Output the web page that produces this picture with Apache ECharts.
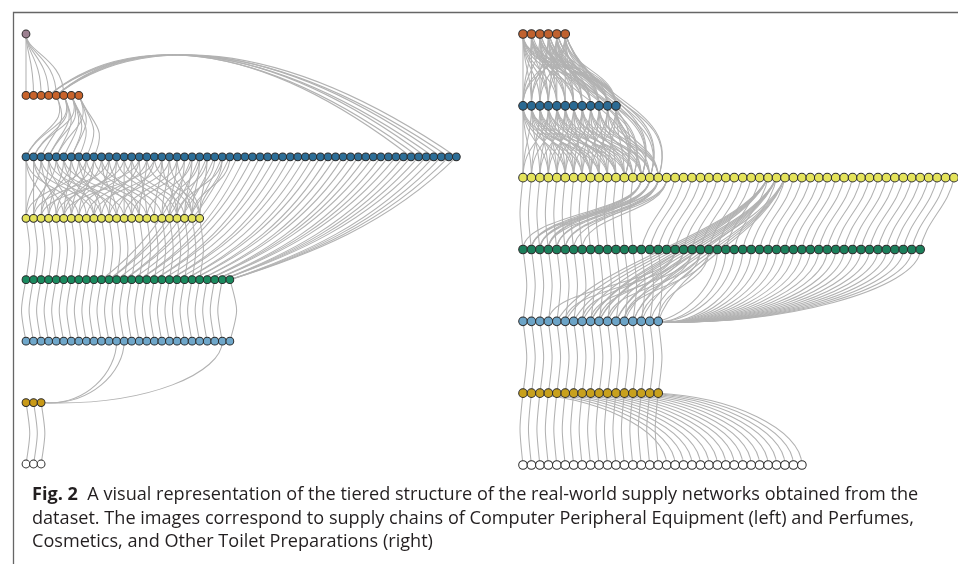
<!DOCTYPE html>
<html><head><meta charset="utf-8">
<script src="https://cdn.jsdelivr.net/npm/echarts@6/dist/echarts.min.js"></script>
<style>html,body{margin:0;padding:0;background:#fff}#c{width:958px;height:564px}</style>
</head><body><div id="c"></div>
<script>
// ================= DATA =================
// Number of firms (nodes) in each tier, top tier first
const leftTierSizes  = [1, 8, 58, 24, 28, 28, 3, 3];   // Computer Peripheral Equipment
const rightTierSizes = [6, 12, 52, 48, 17, 17, 34];    // Perfumes, Cosmetics, Toilet Preparations

// Edge lists: [sourceIndex, [targetIndices]] between two tiers
// ---- left network ----
const leftEdges01 = [[0,[0,1,2,3,4,5]]];
const leftEdges12 = [[4,[0,2]],[5,[0,1,3,4]],[6,[1,3,5,6,7]],[7,[4,6,8,9]]];
const leftArch12  = [[3,[52,54,56]],[4,[51,53,55,57]]];
const leftEdges23 = [[0,[0,3,7]],[1,[1,5,9]],[2,[0,4,10]],[3,[2,6,12]],[4,[1,8,13]],[5,[3,9,15]],
  [6,[2,5,11]],[7,[4,10,16]],[8,[0,6,14]],[9,[3,7,17]],[10,[5,12,18]],[11,[1,9,15]],[12,[6,11,19]],
  [13,[4,13,20]],[14,[7,14,21]],[15,[2,10,16]],[16,[8,15,22]],[17,[5,12,23]],[18,[9,17,20]],
  [19,[11,18,22]],[20,[13,19,23]],[21,[14,20]],[22,[16,21]],[23,[18,22]],[24,[19,23]],[25,[21]],
  [26,[20,23]],[27,[22]]];
const leftLong24  = [[22,[10]],[23,[11]],[24,[11]],[25,[12]],[26,[13]],[27,[13]],[28,[14]],[29,[15]],
  [30,[15]],[31,[16]],[32,[17]],[33,[17]],[34,[18]],[35,[19]],[36,[19]],[37,[20]],[38,[21]],[39,[21]],
  [40,[22]],[41,[22]],[42,[23]],[43,[23]],[44,[24]],[45,[24]],[46,[24]],[47,[25]],[48,[25]],[49,[25]],
  [50,[26]],[51,[26]],[52,[26]],[53,[26]],[54,[27]],[55,[27]],[56,[27]],[57,[27]]];
const leftEdges34 = [[0,[0]],[1,[1]],[2,[2]],[3,[3]],[4,[4]],[5,[5]],[6,[6]],[7,[7]],[8,[8]],[9,[9]],
  [10,[10]],[11,[11]],[12,[12]],[13,[13]],[14,[14]],[15,[15]],[16,[16]],[17,[17]],[18,[18]],[19,[19]],
  [20,[20]],[21,[21]],[22,[22]],[23,[23]]];
const leftEdges45 = [[0,[0]],[1,[1]],[2,[2]],[3,[3]],[4,[4]],[5,[5]],[6,[6]],[7,[7]],[8,[8]],[9,[9]],
  [10,[10]],[11,[11]],[12,[12]],[13,[13]],[14,[14]],[15,[15]],[16,[16]],[17,[17]],[18,[18]],[19,[19]],
  [20,[20]],[21,[21]],[22,[22]],[23,[23]],[24,[24]],[25,[25]],[26,[26]]];
const leftEdges45Outer = [[27,[27]]];
const leftSide56  = [[12,[2]],[13,[2]],[26,[2]]];
const leftEdges67 = [[0,[0]],[1,[1]],[2,[2]]];

// ---- right network ----
const rightEdges01 = [[0,[0,1,2,3,4,6,8,9,11]],[1,[0,1,3,5,6,7,8,10,11]],[2,[0,2,3,4,5,7,9,10,11]],
  [3,[1,2,4,5,6,8,9,10,11]],[4,[0,1,3,4,6,7,8,9,11]],[5,[0,2,3,5,6,7,9,10,11]]];
const rightLong02  = [[1,[12]],[2,[13,15]],[3,[12,13,14]],[4,[14,15,16]],[5,[12,14,15,16]]];
const rightEdges12 = [[0,[0,1,3,5,7,9]],[1,[0,2,4,6,8,10,12]],[2,[1,3,5,7,9,11]],[3,[0,2,4,6,8,11,13]],
  [4,[1,3,5,8,10,12,14]],[5,[2,4,6,9,11,13]],[6,[3,5,7,10,12,14,15]],[7,[4,6,8,11,13,15]],
  [8,[5,7,9,12,14,16]],[9,[6,8,10,13,15,16]],[10,[7,9,11,14,16]],[11,[8,10,12,14,15,16]]];
const rightEdges23 = [[0,[0]],[1,[1]],[2,[2]],[3,[3]],[4,[4]],[5,[5]],[6,[6]],[7,[7]],[8,[8]],[9,[9]],
  [10,[10]],[11,[11]],[12,[12]],[13,[13]]];
const rightBand23  = [[14,[0,1,2,3]],[15,[1,2,3,4]],[16,[1,2,4,5,6]],[17,[3,5,7]]];
const rightDiag23  = [[18,[14]],[19,[15]],[20,[16]],[21,[17]],[22,[18]],[23,[19]],[24,[20]],
  [25,[21]],[26,[22]],[27,[23]],[28,[24]],[29,[25]],[30,[26]],[31,[27]],[32,[28]],[33,[29]],[34,[30]],
  [35,[31]],[36,[32]],[37,[33]],[38,[34]],[39,[35]],[40,[36]],[41,[37]],[42,[38]],[43,[39]],[44,[40]],
  [45,[41]],[46,[42]],[47,[43]],[48,[44]],[49,[45]],[50,[46]],[51,[47]]];
const rightLong24  = [[29,[4,5,6,7,8,9]],[30,[8,9,10,11,12,13]],[31,[11,13,14,15,16]]];
const rightEdges34 = [[0,[0]],[1,[1]],[2,[2]],[3,[3]],[4,[4]],[5,[5]],[6,[6]],[7,[7]],[8,[8]],[9,[9]],
  [10,[10]],[11,[11]],[12,[12]],[13,[13]],[14,[14]],[15,[15]],[16,[16]]];
const rightCross34 = [[18,[3,7]],[19,[5,9]],[20,[8,12]],[21,[10,14]],[22,[12,16]]];
const rightSide34  = [[23,[14]],[24,[15]],[25,[15]],[26,[16]],[27,[16]],[28,[16]],[29,[16]],[30,[16]],
  [31,[16]],[32,[16]],[33,[16]],[34,[16]],[35,[16]],[36,[16]],[37,[16]],[38,[16]],[39,[16]],[40,[16]],
  [41,[16]],[42,[16]],[43,[16]],[44,[16]],[45,[16]],[46,[16]],[47,[16]]];
const rightEdges45 = [[0,[0]],[1,[1]],[2,[2]],[3,[3]],[4,[4]],[5,[5]],[6,[6]],[7,[7]],[8,[8]],[9,[9]],
  [10,[10]],[11,[11]],[12,[12]],[13,[13]],[14,[14]],[15,[15]],[16,[16]]];
const rightEdges56 = [[0,[0]],[1,[1]],[2,[2]],[3,[3]],[4,[4]],[5,[5]],[6,[6]],[7,[7]],[8,[8]],[9,[9]],
  [10,[10]],[11,[11]],[12,[12]],[13,[13]],[14,[14]],[15,[15]],[16,[16]]];
const rightSide56  = [[0,[17]],[1,[18]],[2,[19]],[3,[20]],[4,[21]],[5,[22]],[6,[23]],[7,[24]],[8,[25]],
  [9,[26]],[10,[27]],[11,[28]],[12,[29]],[13,[30]],[14,[31]],[15,[32]],[16,[33]]];

const captionLines = [
  '{b|Fig. 2}  A visual representation of the tiered structure of the real-world supply networks obtained from the',
  'dataset. The images correspond to supply chains of Computer Peripheral Equipment (left) and Perfumes,',
  'Cosmetics, and Other Toilet Preparations (right)'
];

// ================= STYLE =================
const leftColors  = ['#9c8090','#c8632b','#2d6e97','#e4e35b','#1b8a5f','#6fa7ca','#c99a18','#ffffff'];
const rightColors = ['#c0622f','#2b6a93','#e4e35b','#1c7f5b','#6ca4c7','#c8a11d','#ffffff'];

const EDGE_STYLES = [
  {mode:'v', k1:0.3, k2:0.6, bend:0},                  // 0 fan
  {mode:'v', k1:0.5, k2:0.5, bend:14},                 // 1 bulge right
  {mode:'arch', lift:62},                              // 2 arch
  {mode:'v', k1:0.5, k2:0.5, bend:0},                  // 3 plain
  {mode:'v', k1:0.55, k2:0.2, f1:0.3, f2:0.35, bend:0},// 4 long diagonal
  {mode:'v', k1:0.5, k2:0.5, bend:5},                  // 5 bend right
  {mode:'v', k1:0.5, k2:0.5, bend:-6},                 // 6 bend left
  {mode:'v', k1:0.5, k2:0.5, bend:9},                  // 7 outer bend right
  {mode:'vh', k1:0.5, f:0.6, drop:4},                  // 8 enter from right
  {mode:'hv', k2:0.5, f:0.5, drop:3},                  // 9 exit to right
  {mode:'v', k1:0.5, k2:0.5, bend:25},                 // 10 wide bulge
  {mode:'v', k1:0.5, k2:0.5, bend:-4},                 // 11 slight left
  {mode:'vh', k1:0.55, f:0.45, drop:6},                // 12 enter from right (flat)
  {mode:'v', k1:0.4, k2:0.4, f1:0.15, f2:0.15, bend:0} // 13 straighter diagonal
];

const leftGroups = [
  [0,1,leftEdges01,0],[1,2,leftEdges12,1],[1,2,leftArch12,2],[2,3,leftEdges23,3],
  [2,4,leftLong24,4],[3,4,leftEdges34,5],[4,5,leftEdges45,6],[4,5,leftEdges45Outer,7],
  [5,6,leftSide56,8],[6,7,leftEdges67,5]
];
const rightGroups = [
  [0,1,rightEdges01,3],[0,2,rightLong02,10],[1,2,rightEdges12,3],[2,3,rightEdges23,11],
  [2,3,rightBand23,3],[2,3,rightDiag23,13],[2,4,rightLong24,13],[3,4,rightEdges34,5],
  [3,4,rightCross34,3],[3,4,rightSide34,12],[4,5,rightEdges45,5],[5,6,rightEdges56,11],
  [5,6,rightSide56,9]
];

function buildEdges(groups){
  const out = [];
  groups.forEach(([ts, tt, list, st]) => {
    list.forEach(([s, targets]) => targets.forEach(t => out.push([s, ts, t, tt, st])));
  });
  return out;
}
function buildNodes(sizes, colors){
  const out = [];
  sizes.forEach((n, tier) => {
    for (let i = 0; i < n; i++) out.push({value:[i, tier], itemStyle:{color: colors[tier]}});
  });
  return out;
}

function renderEdge(params, api){
  const a = api.coord([api.value(0), api.value(1)]);
  const b = api.coord([api.value(2), api.value(3)]);
  const s = EDGE_STYLES[api.value(4)];
  const dx = b[0]-a[0], dy = b[1]-a[1];
  let c1, c2;
  if (s.mode === 'v') {
    const f1 = s.f1 || 0, f2 = s.f2 || 0;
    c1 = [a[0]+s.bend+f1*dx, a[1]+s.k1*dy]; c2 = [b[0]+s.bend-f2*dx, b[1]-s.k2*dy];
  }
  else if (s.mode === 'arch') { c1 = [a[0]+0.2*dx, a[1]-s.lift]; c2 = [a[0]+0.55*dx, a[1]-s.lift]; }
  else if (s.mode === 'vh') { c1 = [a[0], a[1]+s.k1*dy]; c2 = [b[0]-s.f*dx, b[1]+s.drop]; }
  else { c1 = [a[0]+s.f*dx, a[1]+s.drop]; c2 = [b[0], b[1]-s.k2*dy]; }
  return {type:'bezierCurve',
    shape:{x1:a[0],y1:a[1],x2:b[0],y2:b[1],cpx1:c1[0],cpy1:c1[1],cpx2:c2[0],cpy2:c2[1]},
    style:{stroke:'#b2b2b2', fill:null, lineWidth:1.05}};
}

const chart = echarts.init(document.getElementById('c'), null, {renderer:'canvas'});
chart.setOption({
  animation:false,
  backgroundColor:'#ffffff',
  grid:[
    {left:26, top:34, width:57*7.55, height:430},
    {left:523, top:34, width:431, height:431}
  ],
  xAxis:[
    {type:'value', gridIndex:0, min:0, max:57, show:false},
    {type:'value', gridIndex:1, min:0, max:51, show:false}
  ],
  yAxis:[
    {type:'value', gridIndex:0, min:0, max:7, inverse:true, show:false},
    {type:'value', gridIndex:1, min:0, max:6, inverse:true, show:false}
  ],
  series:[
    {type:'custom', xAxisIndex:0, yAxisIndex:0, renderItem:renderEdge, clip:false,
     encode:{x:[0,2], y:[1,3]}, data:buildEdges(leftGroups), z:1, silent:true},
    {type:'custom', xAxisIndex:1, yAxisIndex:1, renderItem:renderEdge, clip:false,
     encode:{x:[0,2], y:[1,3]}, data:buildEdges(rightGroups), z:1, silent:true},
    {type:'scatter', xAxisIndex:0, yAxisIndex:0, symbol:'circle', symbolSize:7.8, z:5, silent:true,
     itemStyle:{borderColor:'#2b2b2b', borderWidth:1, opacity:1}, data:buildNodes(leftTierSizes, leftColors)},
    {type:'scatter', xAxisIndex:1, yAxisIndex:1, symbol:'circle', symbolSize:8.6, z:5, silent:true,
     itemStyle:{borderColor:'#2b2b2b', borderWidth:1, opacity:1}, data:buildNodes(rightTierSizes, rightColors)}
  ],
  graphic:[
    {type:'polyline', shape:{points:[[13.5,564],[13.5,12.5],[958,12.5]]},
     style:{stroke:'#666666', lineWidth:1.3, fill:null}, silent:true},
    ...captionLines.map((t, i) => ({
      type:'text', x:32, y:495 + i*23.5, silent:true,
      style:{text:t, fontFamily:'Open Sans', fontSize:18.1, fill:'#231f20', verticalAlign:'middle',
             rich:{b:{fontFamily:'Open Sans', fontSize:18.1, fontWeight:'bold', fill:'#231f20'}}}
    }))
  ]
});
</script></body></html>
